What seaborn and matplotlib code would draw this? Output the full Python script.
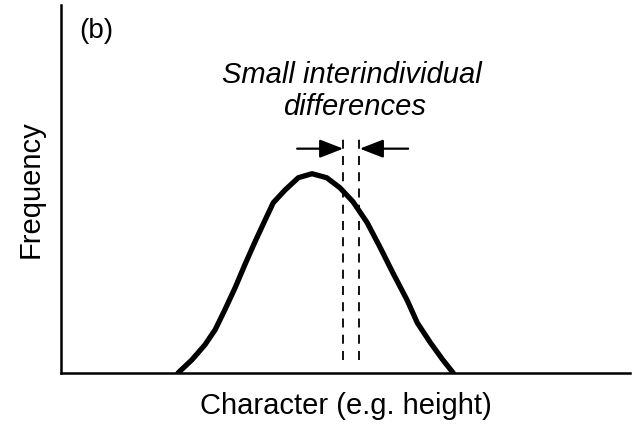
import numpy as np
import pandas as pd
import matplotlib
matplotlib.use("Agg")
import matplotlib.pyplot as plt
import seaborn as sns

# curve (x: character, y: frequency, both 0-100)
char_x = [20.6, 23.0, 25.3, 27.1, 28.8, 30.6, 32.3, 34.1, 35.9, 37.3, 39.4, 41.7, 44.1,
          46.7, 49.0, 51.3, 53.8, 56.1, 58.3, 60.8, 62.6, 64.9, 67.1, 68.9]
freq_y = [0.0, 3.5, 7.6, 11.7, 17.1, 23.1, 29.3, 35.6, 41.6, 46.2, 49.7, 53.0, 54.1,
          53.0, 50.3, 46.5, 40.8, 34.0, 27.2, 19.8, 13.6, 8.2, 3.5, 0.0]

# two nearby individuals
ind_x = [49.6, 52.4]
ind_y = [3.5, 64.1]
arrow_y = 60.9
arrow_left = [41.5, 49.6]
arrow_right = [61.0, 52.5]

panel_label = "(b)"
note_lines = ["Small interindividual", "differences"]
x_label = "Character (e.g. height)"
y_label = "Frequency"

sns.set_style("white")
plt.rcParams["font.family"] = ["Liberation Sans", "DejaVu Sans"]
plt.rcParams["text.color"] = "black"
plt.rcParams["axes.labelcolor"] = "black"

fig, ax = plt.subplots(figsize=(6.34, 4.33), dpi=100)
fig.subplots_adjust(left=0.096, right=0.994, bottom=0.139, top=0.989)

df = pd.DataFrame({"x": char_x, "y": freq_y})
sns.lineplot(data=df, x="x", y="y", ax=ax, color="black", linewidth=3.8,
             solid_joinstyle="round", solid_capstyle="round", sort=False)

for xv in ind_x:
    ax.plot([xv, xv], ind_y, color="black", linestyle=(0, (5, 4)), linewidth=1.3)

for ends in (arrow_left, arrow_right):
    ax.annotate("", xy=(ends[1], arrow_y), xytext=(ends[0], arrow_y),
                arrowprops=dict(arrowstyle="-|>,head_length=0.9,head_width=0.35",
                                color="black", lw=1.6, mutation_scale=16,
                                shrinkA=0, shrinkB=0))

ax.text(51.1, 81.0, note_lines[0], ha="center", va="center", fontsize=21, style="italic")
ax.text(51.6, 72.3, note_lines[1], ha="center", va="center", fontsize=21, style="italic")
ax.text(3.3, 93.0, panel_label, ha="left", va="center", fontsize=20)

ax.set_xlim(0, 100)
ax.set_ylim(0, 100)
ax.set_xticks([])
ax.set_yticks([])
ax.set_xlabel(x_label, fontsize=21, labelpad=14)
ax.set_ylabel(y_label, fontsize=21, labelpad=12)
sns.despine(ax=ax)
for s in ["left", "bottom"]:
    ax.spines[s].set_linewidth(1.8)
    ax.spines[s].set_color("black")

fig.savefig("out.png", dpi=100)
